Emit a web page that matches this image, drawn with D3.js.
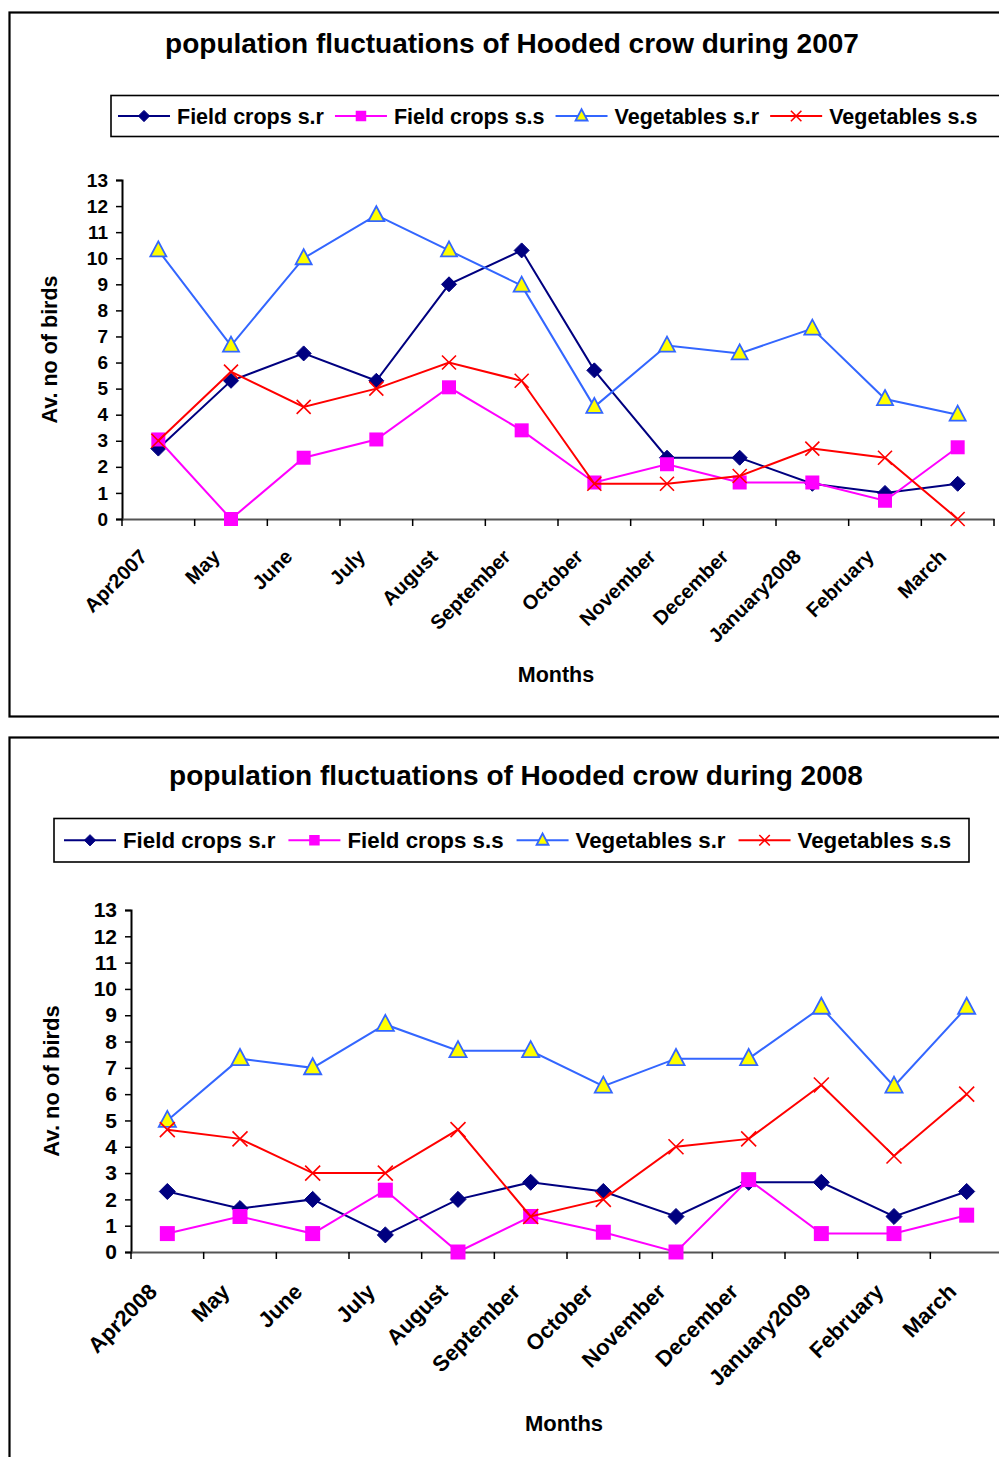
<!DOCTYPE html>
<html><head><meta charset="utf-8">
<script src="https://cdn.jsdelivr.net/npm/d3@7"></script>
<style>
html,body{margin:0;padding:0;background:#fff;}
text{font-family:"Liberation Sans",Arial,sans-serif;font-weight:bold;fill:#000;}
</style></head>
<body><svg id="c" width="999" height="1457"></svg>
<script>
// ---------- data ----------
const months2007 = ["Apr2007","May","June","July","August","September","October","November","December","January2008","February","March"];
const months2008 = ["Apr2008","May","June","July","August","September","October","November","December","January2009","February","March"];
const seriesNames = ["Field crops s.r","Field crops s.s","Vegetables s.r","Vegetables s.s"];
const yTickValues = [0,1,2,3,4,5,6,7,8,9,10,11,12,13];

const fieldSr2007 = [2.7,5.3,6.35,5.3,9,10.3,5.7,2.35,2.35,1.35,1.0,1.35];
const fieldSs2007 = [3.05,0,2.35,3.05,5.05,3.4,1.4,2.1,1.4,1.4,0.7,2.75];
const vegSr2007   = [10.3,6.65,10,11.65,10.3,8.95,4.3,6.65,6.35,7.3,4.6,4];
const vegSs2007   = [3,5.65,4.3,5,6,5.3,1.35,1.35,1.65,2.7,2.35,0];

const fieldSr2008 = [2.3,1.65,2,0.65,2,2.65,2.3,1.35,2.65,2.65,1.35,2.3];
const fieldSs2008 = [0.7,1.35,0.7,2.35,0,1.35,0.75,0,2.75,0.7,0.7,1.4];
const vegSr2008   = [5,7.35,7,8.65,7.65,7.65,6.3,7.35,7.35,9.3,6.3,9.3];
const vegSs2008   = [4.65,4.3,3,3,4.65,1.35,2,4,4.3,6.35,3.65,6];

// ---------- styles ----------
const colors = ["#000080","#FF00FF","#3366FF","#FF0000"];
const svg = d3.select("#c");

function marker(g, type, x, y, s) {
  if (type === 0) {
    const h = 7.5*s;
    g.append("path").attr("d",`M${x},${y-h}L${x+h},${y}L${x},${y+h}L${x-h},${y}Z`).attr("fill","#000080").attr("stroke","#000080").attr("stroke-width",1);
  } else if (type === 1) {
    const h = 7*s;
    g.append("rect").attr("x",x-h).attr("y",y-h).attr("width",2*h).attr("height",2*h).attr("fill","#FF00FF");
  } else if (type === 2) {
    const w = 8*s, t = 9*s, b = 6*s;
    g.append("path").attr("d",`M${x},${y-t}L${x+w},${y+b}L${x-w},${y+b}Z`).attr("fill","#FFFF00").attr("stroke","#3366FF").attr("stroke-width",1.8);
  } else {
    const h = 7*s;
    g.append("path").attr("d",`M${x-h},${y-h}L${x+h},${y+h}M${x-h},${y+h}L${x+h},${y-h}`).attr("stroke","#FF0000").attr("stroke-width",1.6).attr("fill","none");
  }
}

function chart(cfg) {
  const g = svg.append("g");
  g.append("rect").attr("x",9.5).attr("y",cfg.frameTop).attr("width",1100).attr("height",cfg.frameH)
    .attr("fill","none").attr("stroke","#000").attr("stroke-width",2.2);
  g.append("text").attr("x",cfg.titleX).attr("y",cfg.titleY).attr("text-anchor","middle")
    .style("font-size",cfg.titleSize+"px").text(cfg.title);

  // legend
  const lg = g.append("g");
  lg.append("rect").attr("x",cfg.legX).attr("y",cfg.legY).attr("width",cfg.legW).attr("height",cfg.legH)
    .attr("fill","#fff").attr("stroke","#000").attr("stroke-width",1.6);
  let lx = cfg.legX + cfg.legPad;
  const ly = cfg.legY + cfg.legH/2;
  seriesNames.forEach((n,i) => {
    lg.append("line").attr("x1",lx).attr("x2",lx+52).attr("y1",ly).attr("y2",ly)
      .attr("stroke",colors[i]).attr("stroke-width",2);
    marker(lg, i, lx+26, ly, 0.75);
    const t = lg.append("text").attr("x",lx+59).attr("y",ly+cfg.legSize*0.36)
      .style("font-size",cfg.legSize+"px").text(n);
    const w = t.node().getComputedTextLength();
    lx = lx + 59 + w + cfg.legGap;
  });

  const x = d3.scaleBand().domain(cfg.months).range([cfg.x0, cfg.x1]);
  const y = d3.scaleLinear().domain([0,13]).range([cfg.y0, cfg.y1]);
  const bw = x.bandwidth();

  const ya = g.append("g").attr("transform",`translate(${cfg.x0},0)`)
    .call(d3.axisLeft(y).tickValues(yTickValues).tickSize(6).tickPadding(8));
  ya.select(".domain").attr("stroke","#000").attr("stroke-width",2);
  ya.selectAll(".tick line").attr("stroke","#000").attr("stroke-width",1.5);
  ya.selectAll(".tick text").style("font-size",cfg.tickSize+"px").style("font-family","Liberation Sans, Arial, sans-serif").style("font-weight","bold").attr("fill","#000");

  const xa = g.append("g").attr("transform",`translate(0,${cfg.y0})`)
    .call(d3.axisBottom(x).tickSize(0).tickFormat(""));
  xa.select(".domain").attr("stroke","#555").attr("stroke-width",2);
  const bounds = cfg.months.map(m => x(m)).concat([cfg.x1]);
  g.selectAll(null).data(bounds).enter().append("line")
    .attr("x1",d=>d).attr("x2",d=>d).attr("y1",cfg.y0).attr("y2",cfg.y0+7)
    .attr("stroke","#000").attr("stroke-width",1.5);
  g.selectAll(null).data(cfg.months).enter().append("text")
    .attr("transform",d=>`translate(${x(d)+bw/2+cfg.labDx},${cfg.y0+cfg.labDy}) rotate(-45)`)
    .attr("text-anchor","end").style("font-size",cfg.xLabSize+"px").text(d=>d);

  g.append("text").attr("transform",`translate(${cfg.yTitleX},${(cfg.y0+cfg.y1)/2}) rotate(-90)`)
    .attr("text-anchor","middle").style("font-size",cfg.axTitleSize+"px").text("Av. no of birds");
  g.append("text").attr("x",cfg.monthsX).attr("y",cfg.monthsY).attr("text-anchor","middle")
    .style("font-size",cfg.axTitleSize+"px").text("Months");

  const line = d3.line().x((d,i)=>x(cfg.months[i])+bw/2).y(d=>y(d));
  cfg.data.forEach((vals,si) => {
    const sg = g.append("g");
    sg.append("path").attr("d",line(vals)).attr("fill","none").attr("stroke",colors[si]).attr("stroke-width",2);
    vals.forEach((v,i) => marker(sg, si, x(cfg.months[i])+bw/2, y(v), cfg.mk));
  });
}

chart({
  frameTop:12.5, frameH:704, title:"population fluctuations of Hooded crow during 2007",
  titleX:512, titleY:53, titleSize:28,
  legX:111, legY:95.5, legW:900, legH:41, legPad:7, legSize:21.5, legGap:11,
  months:months2007, x0:122, x1:994, y0:519, y1:180,
  tickSize:19, xLabSize:20, labDx:-10, labDy:39,
  yTitleX:57, axTitleSize:21.5, monthsX:556, monthsY:682, mk:1,
  data:[fieldSr2007, fieldSs2007, vegSr2007, vegSs2007]
});
chart({
  frameTop:737.5, frameH:800, title:"population fluctuations of Hooded crow during 2008",
  titleX:516, titleY:785, titleSize:28,
  legX:54, legY:818.5, legW:915, legH:43.5, legPad:10, legSize:22.3, legGap:13,
  months:months2008, x0:131, x1:1003, y0:1252, y1:910,
  tickSize:21, xLabSize:22, labDx:-9, labDy:41,
  yTitleX:59, axTitleSize:22, monthsX:564, monthsY:1431, mk:1.07,
  data:[fieldSr2008, fieldSs2008, vegSr2008, vegSs2008]
});
</script></body></html>
